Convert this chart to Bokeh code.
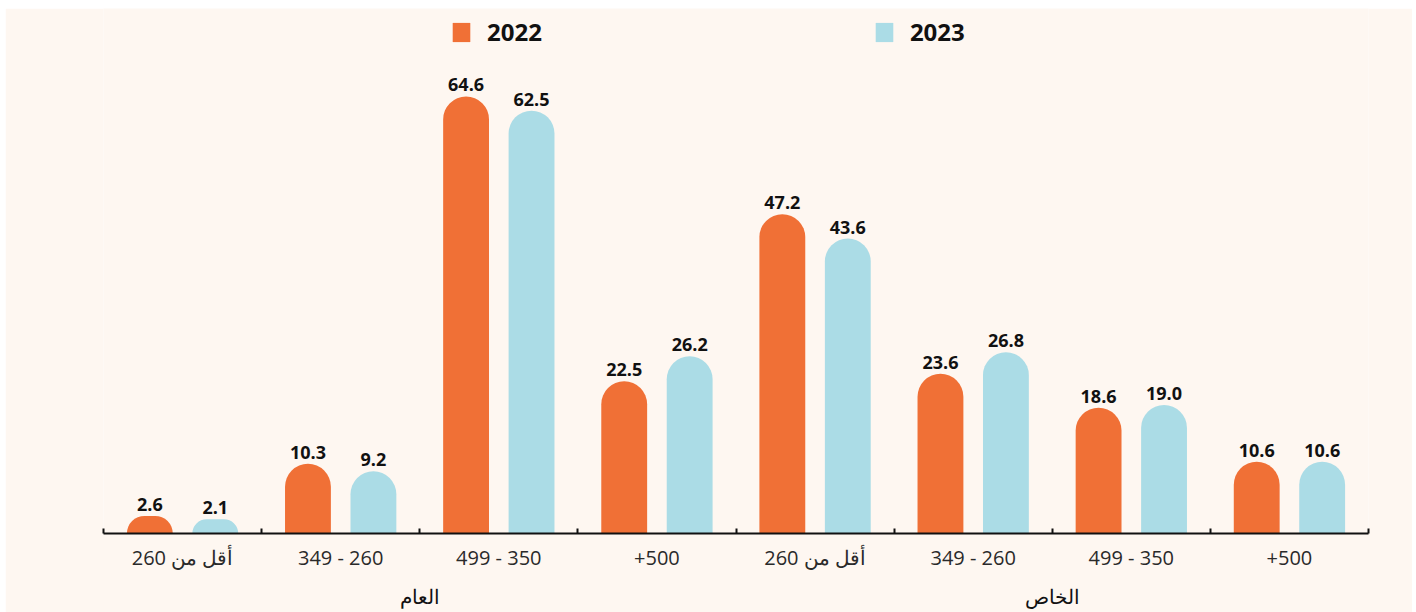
from bokeh.plotting import figure
from bokeh.models import (Range1d, FixedTicker, LinearAxis, Legend, LegendItem,
                          ColumnDataSource)
from bokeh.core.properties import value
from bokeh.embed import file_html
from bokeh.resources import INLINE

# ---- data ----
categories = ["أقل من 260", "349 - 260", "499 - 350", "+500",
              "أقل من 260", "349 - 260", "499 - 350", "+500"]
groups = ["العام", "الخاص"]
values_2022 = [2.6, 10.3, 64.6, 22.5, 47.2, 23.6, 18.6, 10.6]
values_2023 = [2.1, 9.2, 62.5, 26.2, 43.6, 26.8, 19.0, 10.6]
series_names = ["2022", "2023"]

ORANGE = "#F07036"
BLUE = "#ABDCE6"
BG = "#FEF7F1"
FONT_NAME = "Open Sans"

n = len(categories)
centers = [i + 0.5 for i in range(n)]
off = 0.207
bw = 0.29

p = figure(width=1407, height=604, output_backend="svg", toolbar_location=None,
           x_range=Range1d(0, n), y_range=Range1d(0, 77.6),
           min_border_left=98, min_border_right=44, min_border_top=0,
           min_border_bottom=79)
p.margin = (8, 4, 0, 5)
p.background_fill_color = BG
p.border_fill_color = BG
p.outline_line_color = None
p.xgrid.visible = False
p.ygrid.visible = False
p.yaxis.visible = False
p.xaxis.visible = False

src1 = ColumnDataSource(dict(x=[c - off for c in centers], top=values_2022,
                             lab=[f"{v:.1f}" for v in values_2022]))
src2 = ColumnDataSource(dict(x=[c + off for c in centers], top=values_2023,
                             lab=[f"{v:.1f}" for v in values_2023]))

p.vbar(x="x", top="top", bottom=0, width=bw, source=src1, fill_color=ORANGE,
       line_color=None, border_radius=(23, 23, 0, 0))
p.vbar(x="x", top="top", bottom=0, width=bw, source=src2, fill_color=BLUE,
       line_color=None, border_radius=(23, 23, 0, 0))

# square-cornered legend proxies (zero-height, invisible in the plot)
l1 = p.vbar(x="x", top=0, bottom=0, width=bw, source=src1, fill_color=ORANGE,
            line_color=None)
l2 = p.vbar(x="x", top=0, bottom=0, width=bw, source=src2, fill_color=BLUE,
            line_color=None)

for s in (src1, src2):
    p.text(x="x", y="top", text="lab", source=s, text_align="center",
           text_baseline="bottom", y_offset=-5, text_font=value(FONT_NAME),
           text_font_size="18px", text_font_style="bold", text_color="#111111")

legend = Legend(items=[LegendItem(label=series_names[0], renderers=[l1]),
                       LegendItem(label=series_names[1], renderers=[l2])],
                orientation="horizontal", location=(347, 485), spacing=331,
                glyph_width=22, glyph_height=24, label_height=24,
                label_standoff=15, label_text_font=FONT_NAME,
                label_text_font_size="24px", label_text_font_style="bold",
                label_text_color="#111111", padding=0, margin=0,
                border_line_color=None, background_fill_alpha=0)
p.add_layout(legend)

# category axis
ax = LinearAxis(ticker=FixedTicker(ticks=centers, minor_ticks=list(range(n + 1))))
ax.major_label_overrides = {c: categories[i] for i, c in enumerate(centers)}
ax.axis_line_color = "#111111"
ax.axis_line_width = 2
ax.major_tick_line_color = None
ax.minor_tick_line_color = "#111111"
ax.minor_tick_line_width = 2
ax.minor_tick_in = 5
ax.minor_tick_out = 0
ax.major_label_standoff = 4
ax.major_label_text_font = FONT_NAME
ax.major_label_text_font_size = "20px"
ax.major_label_text_color = "#2a2a2a"
p.add_layout(ax, "below")

# group axis
gpos = [n / 4, 3 * n / 4]
gx = LinearAxis(ticker=FixedTicker(ticks=gpos, minor_ticks=[]))
gx.major_label_overrides = {g: groups[i] for i, g in enumerate(gpos)}
gx.axis_line_color = None
gx.major_tick_line_color = None
gx.minor_tick_line_color = None
gx.major_label_standoff = 3
gx.major_label_text_font = FONT_NAME
gx.major_label_text_font_size = "20px"
gx.major_label_text_color = "#111111"
p.add_layout(gx, "below")

open("out.html", "w").write(file_html(p, INLINE))
